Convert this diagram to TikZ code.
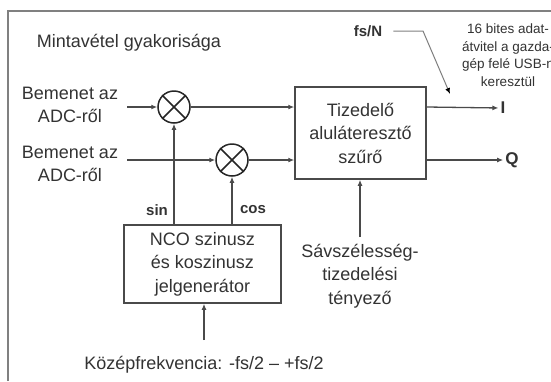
\documentclass[tikz,border=0pt]{standalone}
\usepackage{fontspec}
\setmainfont{Liberation Sans}
\usetikzlibrary{arrows.meta}
\definecolor{txt}{HTML}{333333}
\definecolor{ln}{HTML}{4A4A4A}
\begin{document}
\begin{tikzpicture}[x=1pt,y=-1pt,
  lbl/.style={text=txt, font=\fontsize{18}{23.5}\selectfont, align=center, inner sep=0pt},
  small/.style={text=txt, font=\fontsize{13.5}{17.5}\selectfont, align=center, inner sep=0pt},
  boldlbl/.style={text=txt, font=\fontsize{15}{18}\selectfont\bfseries, inner sep=0pt},
  blk/.style={draw=ln, line width=1.5pt, fill=white},
  mixer/.style={circle, draw=black!85, line width=1.5pt, minimum size=32pt, inner sep=0pt},
  sig/.style={draw=ln, line width=1.3pt, -{Latex[length=6pt,width=5pt]}},
  fsline/.style={draw=gray, line width=1pt, -{Latex[length=6pt,width=5pt,color=black]}}
]
\useasboundingbox (0,0) rectangle (551,381);
\fill[white] (0,0) rectangle (551,381);
\draw[gray, line width=2pt] (8,381) -- (8,11) -- (551,11);

\node[lbl] (title) at (129,43) {Mintavétel gyakorisága};
\node[lbl] (in1) at (70,105) {Bemenet az\\ADC-ről};
\node[lbl] (in2) at (70,164) {Bemenet az\\ADC-ről};
\node[mixer] (mix1) at (174,107) {};
\node[mixer] (mix2) at (232,160) {};
\draw[black!85, line width=1.5pt] (mix1.north west) -- (mix1.south east) (mix1.north east) -- (mix1.south west);
\draw[black!85, line width=1.5pt] (mix2.north west) -- (mix2.south east) (mix2.north east) -- (mix2.south west);
\node[blk, lbl, minimum width=131pt, minimum height=92pt] (filt) at (360.5,133) {Tizedelő\\aluláteresztő\\szűrő};
\node[blk, lbl, minimum width=157pt, minimum height=78pt] (nco) at (202.5,264) {NCO szinusz\\és koszinusz\\jelgenerátor};
\node[lbl] (kozep) at (204,365) {Középfrekvencia: -fs/2 – +fs/2};
\node[lbl] (sav) at (360,276) {Sávszélesség-\\tizedelési\\tényező};
\node[boldlbl] (sin) at (157,210) {sin};
\node[boldlbl] (cos) at (253,210) {cos};
\node[boldlbl] (fsn) at (368,31) {fs/N};
\node[small] (usb) at (508,55) {16 bites adat-\\átvitel a gazda-\\gép felé USB-n\\keresztül};
\node[boldlbl, font=\fontsize{17}{20}\selectfont\bfseries] (I) at (503,108) {I};
\node[boldlbl, font=\fontsize{17}{20}\selectfont\bfseries] (Q) at (512,160) {Q};

\coordinate (a1) at (127,107);
\coordinate (a2) at (127,160);
\coordinate (k0) at (204,340);
\coordinate (s0) at (360,237);
\coordinate (f1) at (423,31);
\coordinate (f2) at (450,94);

\draw[sig] (a1) -- (mix1);
\draw[sig] (a2) -- (mix2);
\draw[sig] (mix1) -- (filt.west |- mix1);
\draw[sig] (mix2) -- (filt.west |- mix2);
\draw[sig] (nco.north -| mix1) -- (mix1);
\draw[sig] (nco.north -| mix2) -- (mix2);
\draw[sig] (k0) -- (nco.south -| k0);
\draw[sig] (s0) -- (filt.south -| s0);
\draw[sig, shorten >=2pt] (filt.east |- mix1) -- (I.west);
\draw[sig, shorten >=2pt] (filt.east |- mix2) -- (Q.west);
\draw[fsline] ([xshift=11pt]fsn.east) -- (f1) -- (f2);
\end{tikzpicture}
\end{document}
